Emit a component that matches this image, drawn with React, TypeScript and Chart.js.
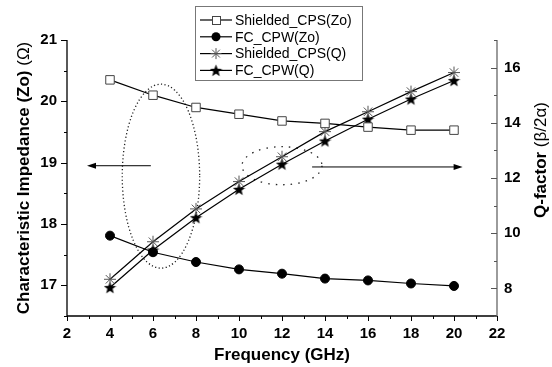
import React, { useEffect, useRef } from 'react';
import { Chart, registerables } from 'chart.js';

Chart.register(...registerables);

// ---- data ----
const frequencies = [4, 6, 8, 10, 12, 14, 16, 18, 20];
const shieldedCpsZo = [20.35, 20.1, 19.9, 19.79, 19.68, 19.64, 19.58, 19.53, 19.53];
const fcCpwZo = [17.81, 17.54, 17.38, 17.26, 17.19, 17.11, 17.08, 17.03, 16.99];
const shieldedCpsQ = [8.33, 9.69, 10.88, 11.87, 12.77, 13.68, 14.4, 15.13, 15.82];
const fcCpwQ = [8.03, 9.39, 10.56, 11.59, 12.5, 13.34, 14.13, 14.86, 15.53];

const seriesLabels = ['Shielded_CPS(Zo)', 'FC_CPW(Zo)', 'Shielded_CPS(Q)', 'FC_CPW(Q)'];

const xTicks = [2, 4, 6, 8, 10, 12, 14, 16, 18, 20, 22];
const zoTicks = [17, 18, 19, 20, 21];
const qTicks = [8, 10, 12, 14, 16];

const xTitle = 'Frequency (GHz)';
const zoTitleBold = 'Characteristic Impedance (Zo)';
const zoTitleUnit = '(\u03A9)';
const qTitleBold = 'Q-factor';
const qTitleUnit = '(\u03B2/2\u03B1)';

// annotations (in data units of x / left axis)
const ellipseCx = [6.37, 12.0];
const ellipseCy = [18.78, 18.95];
const ellipseRx = [1.8, 1.86];
const ellipseRy = [1.5, 0.31];
const arrowFrom = [5.9, 13.4];
const arrowTo = [2.93, 20.4];
const arrowY = [18.95, 18.93];

const FONT = 'Arial, "Liberation Sans", Helvetica, sans-serif';

function makeStar(size: number): HTMLCanvasElement {
  const c = document.createElement('canvas');
  c.width = size;
  c.height = size;
  const ctx = c.getContext('2d')!;
  const cx = size / 2, cy = size / 2 + 0.5;
  const R = size / 2, r = R * 0.42;
  ctx.beginPath();
  for (let i = 0; i < 10; i++) {
    const ang = -Math.PI / 2 + (i * Math.PI) / 5;
    const rad = i % 2 === 0 ? R : r;
    const px = cx + rad * Math.cos(ang);
    const py = cy + rad * Math.sin(ang);
    if (i === 0) ctx.moveTo(px, py); else ctx.lineTo(px, py);
  }
  ctx.closePath();
  ctx.fillStyle = '#000';
  ctx.fill();
  return c;
}

export default function App() {
  const ref = useRef<HTMLCanvasElement | null>(null);

  useEffect(() => {
    document.body.style.margin = '0';
    const star = makeStar(13);

    const drawAsterisk = (ctx: CanvasRenderingContext2D, x: number, y: number, r: number) => {
      ctx.save();
      ctx.strokeStyle = '#555';
      ctx.lineWidth = 1;
      ctx.beginPath();
      for (let i = 0; i < 4; i++) {
        const a = (i * Math.PI) / 4;
        ctx.moveTo(x - r * Math.cos(a), y - r * Math.sin(a));
        ctx.lineTo(x + r * Math.cos(a), y + r * Math.sin(a));
      }
      ctx.stroke();
      ctx.restore();
    };

    const annotPlugin = {
      id: 'annot',
      beforeDatasetsDraw(chart: any) {
        const ctx: CanvasRenderingContext2D = chart.ctx;
        const xs = chart.scales.x, ys = chart.scales.y;
        ctx.save();
        // ellipses
        for (let i = 0; i < ellipseCx.length; i++) {
          const cx = xs.getPixelForValue(ellipseCx[i]);
          const cy = ys.getPixelForValue(ellipseCy[i]);
          const rx = Math.abs(xs.getPixelForValue(ellipseCx[i] + ellipseRx[i]) - cx);
          const ry = Math.abs(ys.getPixelForValue(ellipseCy[i] + ellipseRy[i]) - cy);
          ctx.beginPath();
          ctx.ellipse(cx, cy, rx, ry, 0, 0, Math.PI * 2);
          ctx.strokeStyle = '#222';
          ctx.lineWidth = 1.3;
          ctx.setLineDash(i === 0 ? [1.2, 2.4] : [1.5, 6]);
          ctx.stroke();
        }
        ctx.setLineDash([]);
        // arrows
        for (let i = 0; i < arrowFrom.length; i++) {
          const x1 = xs.getPixelForValue(arrowFrom[i]);
          const x2 = xs.getPixelForValue(arrowTo[i]);
          const y = ys.getPixelForValue(arrowY[i]);
          const dir = Math.sign(x2 - x1);
          ctx.beginPath();
          ctx.moveTo(x1, y);
          ctx.lineTo(x2 - dir * 6, y);
          ctx.strokeStyle = '#000';
          ctx.lineWidth = 1;
          ctx.stroke();
          ctx.beginPath();
          ctx.moveTo(x2, y);
          ctx.lineTo(x2 - dir * 9, y - 3);
          ctx.lineTo(x2 - dir * 9, y + 3);
          ctx.closePath();
          ctx.fillStyle = '#000';
          ctx.fill();
        }
        ctx.restore();
      },
      afterDraw(chart: any) {
        const ctx: CanvasRenderingContext2D = chart.ctx;
        const { left, right, top, bottom } = chart.chartArea;
        const xs = chart.scales.x, ys = chart.scales.y, y1 = chart.scales.y1;
        ctx.save();
        // axis lines
        ctx.lineWidth = 1.3;
        ctx.strokeStyle = '#000';
        ctx.beginPath();
        ctx.moveTo(left, top);
        ctx.lineTo(left, bottom);
        ctx.lineTo(right, bottom);
        ctx.stroke();
        ctx.strokeStyle = '#666';
        ctx.beginPath();
        ctx.moveTo(right, top);
        ctx.lineTo(right, bottom);
        ctx.stroke();
        // x ticks
        ctx.lineWidth = 1;
        ctx.strokeStyle = '#000';
        ctx.beginPath();
        for (let v = xTicks[0]; v <= xTicks[xTicks.length - 1]; v += 1) {
          const px = Math.round(xs.getPixelForValue(v)) + 0.5;
          const len = xTicks.includes(v) ? 5 : 3;
          ctx.moveTo(px, bottom);
          ctx.lineTo(px, bottom + len);
        }
        // left ticks
        for (let v = 16.5; v <= 21.001; v += 0.5) {
          const py = Math.round(ys.getPixelForValue(v)) + 0.5;
          const len = zoTicks.includes(v) ? 6 : 3;
          ctx.moveTo(left, py);
          ctx.lineTo(left - len, py);
        }
        ctx.stroke();
        // right ticks (inward)
        ctx.strokeStyle = '#555';
        ctx.beginPath();
        for (let v = 7; v <= 17; v += 1) {
          const py = Math.round(y1.getPixelForValue(v)) + 0.5;
          const len = qTicks.includes(v) ? 6 : 3;
          ctx.moveTo(right, py);
          ctx.lineTo(right - len, py);
        }
        ctx.stroke();

        // axis titles
        ctx.fillStyle = '#000';
        ctx.textBaseline = 'middle';
        ctx.textAlign = 'center';
        ctx.font = `bold 17px ${FONT}`;
        ctx.fillText(xTitle, (left + right) / 2, 355);

        const drawRotTitle = (bold: string, unit: string, cx: number, cy: number) => {
          ctx.save();
          ctx.translate(cx, cy);
          ctx.rotate(-Math.PI / 2);
          ctx.font = `bold 17px ${FONT}`;
          const wb = ctx.measureText(bold + ' ').width;
          ctx.font = `17px ${FONT}`;
          const wu = ctx.measureText(unit).width;
          const start = -(wb + wu) / 2;
          ctx.textAlign = 'left';
          ctx.font = `bold 17px ${FONT}`;
          ctx.fillText(bold, start, 0);
          ctx.font = `17px ${FONT}`;
          ctx.fillText(unit, start + wb, 0);
          ctx.restore();
        };
        drawRotTitle(zoTitleBold, zoTitleUnit, 24, (top + bottom) / 2);
        drawRotTitle(qTitleBold, qTitleUnit, 541, 160);

        // legend
        const bx = 195, by = 6, bw = 167, bh = 74;
        ctx.fillStyle = '#fff';
        ctx.fillRect(bx, by, bw, bh);
        ctx.strokeStyle = '#777';
        ctx.lineWidth = 1;
        ctx.strokeRect(bx + 0.5, by + 0.5, bw, bh);
        ctx.font = `14px ${FONT}`;
        ctx.textAlign = 'left';
        ctx.textBaseline = 'middle';
        for (let i = 0; i < seriesLabels.length; i++) {
          const y = by + 14 + i * 16.8;
          const lx1 = bx + 5, lx2 = bx + 37, mx = bx + 21;
          ctx.strokeStyle = '#000';
          ctx.lineWidth = 1.2;
          ctx.beginPath();
          ctx.moveTo(lx1, y);
          ctx.lineTo(lx2, y);
          ctx.stroke();
          if (i === 0) {
            ctx.fillStyle = '#fff';
            ctx.fillRect(mx - 4, y - 4, 8, 8);
            ctx.strokeStyle = '#444';
            ctx.lineWidth = 1;
            ctx.strokeRect(mx - 4 + 0.5, y - 4 + 0.5, 8, 8);
          } else if (i === 1) {
            ctx.fillStyle = '#000';
            ctx.beginPath();
            ctx.arc(mx, y, 4.5, 0, Math.PI * 2);
            ctx.fill();
          } else if (i === 2) {
            drawAsterisk(ctx, mx, y, 5.5);
          } else {
            ctx.drawImage(star, mx - star.width / 2, y - star.height / 2);
          }
          ctx.fillStyle = '#000';
          ctx.fillText(seriesLabels[i], bx + 40, y + 1);
        }
        ctx.restore();
      },
    };

    const tickFont = { family: FONT, size: 15, weight: 'bold' as const };

    const chart = new Chart(ref.current!, {
      type: 'line',
      data: {
        datasets: [
          {
            label: seriesLabels[0],
            data: frequencies.map((f, i) => ({ x: f, y: shieldedCpsZo[i] })),
            yAxisID: 'y',
            borderColor: '#000',
            borderWidth: 1.2,
            pointStyle: 'rect',
            pointRadius: 6,
            pointBackgroundColor: '#fff',
            pointBorderColor: '#444',
            pointBorderWidth: 1,
          },
          {
            label: seriesLabels[1],
            data: frequencies.map((f, i) => ({ x: f, y: fcCpwZo[i] })),
            yAxisID: 'y',
            borderColor: '#000',
            borderWidth: 1.2,
            pointStyle: 'circle',
            pointRadius: 4.5,
            pointBackgroundColor: '#000',
            pointBorderColor: '#000',
            pointBorderWidth: 1,
          },
          {
            label: seriesLabels[2],
            data: frequencies.map((f, i) => ({ x: f, y: shieldedCpsQ[i] })),
            yAxisID: 'y1',
            borderColor: '#000',
            borderWidth: 1.2,
            pointStyle: 'star',
            pointRadius: 6,
            pointBackgroundColor: '#555',
            pointBorderColor: '#555',
            pointBorderWidth: 1,
          },
          {
            label: seriesLabels[3],
            data: frequencies.map((f, i) => ({ x: f, y: fcCpwQ[i] })),
            yAxisID: 'y1',
            borderColor: '#000',
            borderWidth: 1.2,
            pointStyle: star,
            pointRadius: 6,
            pointBackgroundColor: '#000',
            pointBorderColor: '#000',
          },
        ],
      },
      options: {
        animation: false,
        responsive: false,
        maintainAspectRatio: false,
        layout: { padding: { top: 40, left: 0, right: 0, bottom: 0 } },
        plugins: { legend: { display: false }, tooltip: { enabled: false }, title: { display: false } },
        scales: {
          x: {
            type: 'linear',
            min: 2,
            max: 22,
            afterBuildTicks: (s: any) => { s.ticks = xTicks.map((v) => ({ value: v })); },
            afterFit: (s: any) => { s.height = 51; },
            grid: { display: false, drawTicks: false },
            border: { display: false },
            ticks: { font: tickFont, color: '#000', padding: 9, autoSkip: false, maxRotation: 0 },
          },
          y: {
            type: 'linear',
            position: 'left',
            min: 16.5,
            max: 21,
            afterBuildTicks: (s: any) => { s.ticks = zoTicks.map((v) => ({ value: v })); },
            afterFit: (s: any) => { s.width = 67; },
            grid: { display: false, drawTicks: false },
            border: { display: false },
            ticks: { font: tickFont, color: '#000', padding: 10, autoSkip: false },
          },
          y1: {
            type: 'linear',
            position: 'right',
            min: 7,
            max: 17,
            afterBuildTicks: (s: any) => { s.ticks = qTicks.map((v) => ({ value: v })); },
            afterFit: (s: any) => { s.width = 55; },
            grid: { display: false, drawTicks: false },
            border: { display: false },
            ticks: { font: tickFont, color: '#000', padding: 7, autoSkip: false },
          },
        },
      },
      plugins: [annotPlugin],
    });
    return () => chart.destroy();
  }, []);

  return (
    <div style={{ width: 552, height: 367, background: '#fff' }}>
      <canvas ref={ref} width={552} height={367} style={{ display: 'block' }} />
    </div>
  );
}
